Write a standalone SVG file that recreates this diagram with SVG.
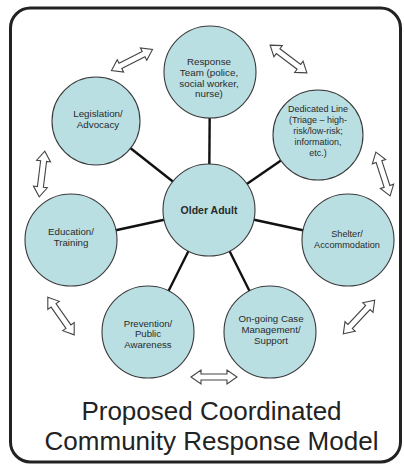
<svg xmlns="http://www.w3.org/2000/svg" xmlns:xlink="http://www.w3.org/1999/xlink" width="404" height="468" viewBox="0 0 404 468">
<style>
.node circle{fill:#b9dfe3;stroke:#3a3a3a;stroke-width:1.1}
.lbl{font-family:"Liberation Sans",Arial,sans-serif;fill:#2a2a2a;text-anchor:middle}
.conn line{stroke:#111;stroke-width:2.4}
.dbl{fill:#fff;stroke:#444;stroke-width:1.1;stroke-linejoin:miter}
.title{font-family:"Liberation Sans",Arial,sans-serif;font-size:26px;fill:#222;text-anchor:middle}
</style>
<defs>
<path id="dbl" d="M-23,0 L-13,-7 L-13,-3 L13,-3 L13,-7 L23,0 L13,7 L13,3 L-13,3 L-13,7 Z"/>
</defs>
<rect x="10.5" y="8" width="390" height="454" rx="20" ry="20" fill="#fff" stroke="#222" stroke-width="3"/>
<g id="connectors" class="conn">
<line x1="209" y1="210" x2="210" y2="72"/>
<line x1="209" y1="210" x2="318" y2="135"/>
<line x1="209" y1="210" x2="348" y2="240"/>
<line x1="209" y1="210" x2="270" y2="332"/>
<line x1="209" y1="210" x2="148" y2="332"/>
<line x1="209" y1="210" x2="71" y2="240"/>
<line x1="209" y1="210" x2="96" y2="121"/>
</g>
<g id="exchange-arrows" class="dbl">
<use xlink:href="#dbl" href="#dbl" transform="translate(132,60) rotate(-27)"/>
<use xlink:href="#dbl" href="#dbl" transform="translate(288.5,59) rotate(37)"/>
<use xlink:href="#dbl" href="#dbl" transform="translate(383,174) rotate(72)"/>
<use xlink:href="#dbl" href="#dbl" transform="translate(359,317) rotate(-47)"/>
<use xlink:href="#dbl" href="#dbl" transform="translate(214,377)"/>
<use xlink:href="#dbl" href="#dbl" transform="translate(61,316) rotate(55)"/>
<use xlink:href="#dbl" href="#dbl" transform="translate(42,174) rotate(97)"/>
</g>
<g id="older-adult" class="node">
<circle cx="209" cy="210" r="46"/>
<text class="lbl" x="209" y="213.5" font-size="10.5" font-weight="bold">Older Adult</text>
</g>
<g id="response-team" class="node">
<circle cx="210" cy="72" r="46"/>
<text class="lbl" font-size="9.8"><tspan x="209" y="64.5">Response</tspan><tspan x="209" y="75.5">Team (police,</tspan><tspan x="209" y="86.5">social worker,</tspan><tspan x="209" y="97">nurse)</tspan></text>
</g>
<g id="dedicated-line" class="node">
<circle cx="318" cy="135" r="45"/>
<text class="lbl" font-size="9"><tspan x="318" y="111.5">Dedicated Line</tspan><tspan x="318" y="122.5">(Triage – high-</tspan><tspan x="318" y="133.5">risk/low-risk;</tspan><tspan x="318" y="145">information,</tspan><tspan x="318" y="156">etc.)</tspan></text>
</g>
<g id="shelter" class="node">
<circle cx="348" cy="240" r="46"/>
<text class="lbl" font-size="9.2"><tspan x="347" y="236.5">Shelter/</tspan><tspan x="347" y="248">Accommodation</tspan></text>
</g>
<g id="case-management" class="node">
<circle cx="270" cy="332" r="46"/>
<text class="lbl" font-size="9.7"><tspan x="271" y="321.5">On-going Case</tspan><tspan x="271" y="332.5">Management/</tspan><tspan x="271" y="343.5">Support</tspan></text>
</g>
<g id="prevention" class="node">
<circle cx="148" cy="332" r="46"/>
<text class="lbl" font-size="9.6"><tspan x="148" y="326.5">Prevention/</tspan><tspan x="148" y="337">Public</tspan><tspan x="148" y="347.5">Awareness</tspan></text>
</g>
<g id="education" class="node">
<circle cx="71" cy="240" r="46"/>
<text class="lbl" font-size="9.7"><tspan x="71" y="234.5">Education/</tspan><tspan x="71" y="245.5">Training</tspan></text>
</g>
<g id="legislation" class="node">
<circle cx="96" cy="121" r="44"/>
<text class="lbl" font-size="9.8"><tspan x="98" y="116.5">Legislation/</tspan><tspan x="98" y="127.5">Advocacy</tspan></text>
</g>
<text class="title"><tspan x="211.5" y="420">Proposed Coordinated</tspan><tspan x="211.5" y="450">Community Response Model</tspan></text>
</svg>
